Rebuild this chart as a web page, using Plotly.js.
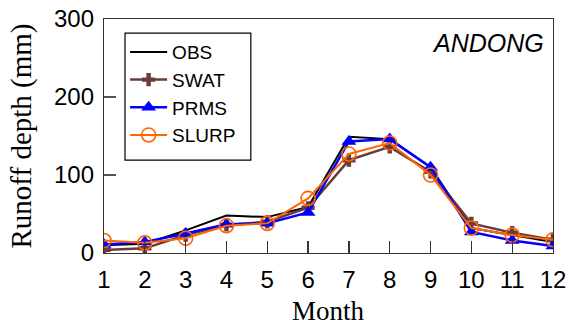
<!DOCTYPE html>
<html><head><meta charset="utf-8">
<script src="https://cdn.plot.ly/plotly-3.0.1.min.js"></script>
<style>html,body{margin:0;padding:0;background:#fff}#c{width:569px;height:320px}</style>
</head><body><div id="c"></div>
<script>
const months = [1,2,3,4,5,6,7,8,9,10,11,12];
const obs   = [10, 12, 29, 48, 46, 59, 149, 146, 110, 32, 23, 14];
const swat  = [4, 6, 23, 36, 40, 58, 119, 136, 104, 38, 26, 17];
const prms  = [11, 14, 25, 37, 38, 52, 143, 146, 110, 27, 16, 9];
const slurp = [16, 13, 19, 35, 38, 70, 127, 141, 100, 32, 23, 17];
const xTicks = months;
const yTicks = [0, 100, 200, 300];

const traces = [
  {x: months, y: obs, name: 'OBS', mode: 'lines', legendgroup: 'a',
   line: {color: '#000000', width: 2}},
  {x: months, y: swat, name: 'SWAT', mode: 'lines+markers', legendgroup: 'b',
   line: {color: '#6b3a3a', width: 2.5},
   marker: {symbol: 'cross', size: 11, color: '#6b3a3a'}},
  {x: months, y: prms, name: 'PRMS', mode: 'lines+markers', legendgroup: 'c',
   line: {color: '#0000ff', width: 2.5},
   marker: {symbol: 'triangle-up', size: 13, color: '#0000ff'}},
  {x: months, y: slurp, name: 'SLURP', mode: 'lines+markers', legendgroup: 'd',
   line: {color: '#ff6600', width: 2},
   marker: {symbol: 'circle-open', size: 14, color: '#ff6600', line: {width: 1.6, color: '#ff6600'}}}
];

const layout = {
  width: 569, height: 320,
  margin: {l: 104, r: 16, t: 19, b: 67},
  paper_bgcolor: '#fff', plot_bgcolor: '#fff',
  showlegend: true,
  legend: {x: 0.047, y: 0.94, xanchor: 'left', yanchor: 'top',
    borderwidth: 0, bgcolor: 'rgba(0,0,0,0)',
    font: {family: 'Liberation Sans, Arial, sans-serif', size: 19, color: '#000'},
    tracegroupgap: 1, traceorder: 'normal', itemwidth: 37},
  shapes: [{type: 'rect', xref: 'paper', yref: 'paper', x0: 0.0468, x1: 0.327, y0: 0.397, y1: 0.940,
    line: {color: '#000', width: 1.2}, fillcolor: 'rgba(0,0,0,0)', layer: 'above'}],
  xaxis: {range: [1, 12], tickvals: xTicks, ticktext: xTicks.map(String),
    ticks: 'inside', ticklen: 12, tickcolor: '#333', tickwidth: 1.2,
    showline: true, linecolor: '#333', linewidth: 1.2, mirror: true,
    showgrid: false, zeroline: false, ticklabelstandoff: 5,
    tickfont: {family: 'Liberation Sans, Arial, sans-serif', size: 24, color: '#000'}},
  yaxis: {range: [0, 300], tickvals: yTicks,
    ticks: 'inside', ticklen: 12, tickcolor: '#555', tickwidth: 1.2,
    showline: true, linecolor: '#333', linewidth: 1.2, mirror: true,
    showgrid: false, zeroline: false, ticklabelstandoff: 4,
    tickfont: {family: 'Liberation Sans, Arial, sans-serif', size: 24, color: '#000'},
    title: {text: 'Runoff depth (mm)', standoff: 13, font: {family: 'Liberation Serif, Times New Roman, serif', size: 29, color: '#000'}}},
  annotations: [
    {xref: 'paper', yref: 'paper', x: 0.985, y: 0.965, xanchor: 'right', yanchor: 'top',
     text: '<i>ANDONG</i>', showarrow: false,
     font: {family: 'Liberation Sans, Arial, sans-serif', size: 25, color: '#000'}},
    {xref: 'paper', yref: 'paper', x: 0.5, y: -0.247, xanchor: 'center', yanchor: 'middle',
     text: 'Month', showarrow: false, borderpad: 0,
     font: {family: 'Liberation Serif, Times New Roman, serif', size: 27, color: '#000'}}
  ]
};

Plotly.newPlot('c', traces, layout, {displayModeBar: false, staticPlot: true});
</script></body></html>
